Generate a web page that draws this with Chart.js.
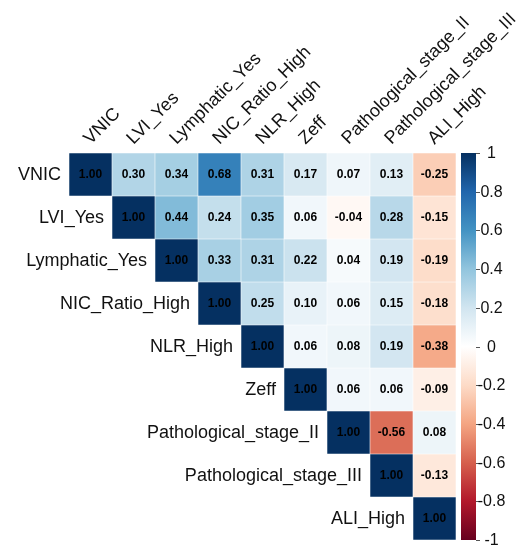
<!DOCTYPE html>
<html>
<head>
<meta charset="utf-8">
<script src="https://cdn.jsdelivr.net/npm/chart.js@4.4.1/dist/chart.umd.min.js"></script>
<style>
  html, body { margin: 0; padding: 0; background: #ffffff; }
  #wrap { width: 526px; height: 547px; }
</style>
</head>
<body>
<div id="wrap"><canvas id="c" width="526" height="547"></canvas></div>
<script>
// ---- data ----
const variables = ['VNIC', 'LVI_Yes', 'Lymphatic_Yes', 'NIC_Ratio_High', 'NLR_High', 'Zeff',
                   'Pathological_stage_II', 'Pathological_stage_III', 'ALI_High'];
// upper-triangle rows, each starting at the diagonal
const rowVNIC        = [1.00, 0.30, 0.34, 0.68, 0.31, 0.17, 0.07, 0.13, -0.25];
const rowLVI         = [1.00, 0.44, 0.24, 0.35, 0.06, -0.04, 0.28, -0.15];
const rowLymphatic   = [1.00, 0.33, 0.31, 0.22, 0.04, 0.19, -0.19];
const rowNICRatio    = [1.00, 0.25, 0.10, 0.06, 0.15, -0.18];
const rowNLR         = [1.00, 0.06, 0.08, 0.19, -0.38];
const rowZeff        = [1.00, 0.06, 0.06, -0.09];
const rowStageII     = [1.00, -0.56, 0.08];
const rowStageIII    = [1.00, -0.13];
const rowALI         = [1.00];
const rows = [rowVNIC, rowLVI, rowLymphatic, rowNICRatio, rowNLR, rowZeff, rowStageII, rowStageIII, rowALI];
const colorbarTicks = [1, 0.8, 0.6, 0.4, 0.2, 0, -0.2, -0.4, -0.6, -0.8, -1];

// ---- RdBu palette (corrplot style) ----
const palette = ['#67001F', '#B2182B', '#D6604D', '#F4A582', '#FDDBC7', '#FFFFFF',
                 '#D1E5F0', '#92C5DE', '#4393C3', '#2166AC', '#053061'];
function hexToRgb(h) { return [parseInt(h.substr(1,2),16), parseInt(h.substr(3,2),16), parseInt(h.substr(5,2),16)]; }
const palRgb = palette.map(hexToRgb);
function corrColor(v) {
  const t = (Math.max(-1, Math.min(1, v)) + 1) / 2 * (palRgb.length - 1);
  const i = Math.min(Math.floor(t), palRgb.length - 2);
  const f = t - i;
  const a = palRgb[i], b = palRgb[i + 1];
  const c = a.map((x, k) => Math.round(x + (b[k] - x) * f));
  return 'rgb(' + c.join(',') + ')';
}
function cellValue(i, j) { return j >= i ? rows[i][j - i] : null; }

const FONT = '"Liberation Sans", Arial, Helvetica, sans-serif';

const datasets = rows.map((row, i) => ({
  label: variables[i],
  data: variables.map((_, j) => j >= i ? [i - 0.5, i + 0.5] : null),
  backgroundColor: (ctx) => {
    const v = cellValue(i, ctx.dataIndex);
    return v === null ? 'rgba(0,0,0,0)' : corrColor(v);
  },
  borderColor: 'rgba(255,255,255,0.35)',
  borderWidth: 0.6,
  borderSkipped: false,
  barPercentage: 1,
  categoryPercentage: 1,
  grouped: false
}));

const decorPlugin = {
  id: 'decor',
  afterDatasetsDraw(chart) {
    const ctx = chart.ctx;
    const xs = chart.scales.x, ys = chart.scales.y, cb = chart.scales.cb;
    const area = chart.chartArea;
    const cellW = xs.getPixelForValue(1) - xs.getPixelForValue(0);
    ctx.save();
    // cell numbers
    ctx.font = 'bold 12px ' + FONT;
    ctx.fillStyle = '#000';
    ctx.textAlign = 'center';
    ctx.textBaseline = 'middle';
    chart.data.datasets.forEach((ds, i) => {
      const meta = chart.getDatasetMeta(i);
      meta.data.forEach((el, j) => {
        const v = cellValue(i, j);
        if (v === null) return;
        const p = el.getProps(['x', 'base', 'y'], true);
        const cy = (p.y + p.base) / 2;
        ctx.fillText(v.toFixed(2), p.x, cy + 0.5);
      });
    });
    // top labels (rotated 45deg)
    ctx.font = '18px ' + FONT;
    ctx.fillStyle = '#111';
    ctx.textAlign = 'left';
    ctx.textBaseline = 'alphabetic';
    variables.forEach((name, j) => {
      const x = xs.getPixelForValue(j);
      const y = area.top - 8;
      ctx.save();
      ctx.translate(x, y);
      ctx.rotate(-Math.PI / 4);
      ctx.fillText(name, 0, 0);
      ctx.restore();
    });
    // row labels, right-aligned next to the diagonal
    ctx.textAlign = 'right';
    ctx.textBaseline = 'middle';
    variables.forEach((name, i) => {
      const x = xs.getPixelForValue(i) - cellW / 2 - 8;
      const y = ys.getPixelForValue(i);
      ctx.fillText(name, x, y + 1);
    });
    // colour bar
    const barL = 461, barR = 476;
    const topY = cb.getPixelForValue(1), botY = cb.getPixelForValue(-1);
    const grad = ctx.createLinearGradient(0, topY, 0, botY);
    palette.slice().reverse().forEach((c, k) => grad.addColorStop(k / (palette.length - 1), c));
    ctx.fillStyle = grad;
    ctx.fillRect(barL, topY, barR - barL, botY - topY);
    ctx.strokeStyle = '#555';
    ctx.lineWidth = 1;
    ctx.font = '16px ' + FONT;
    ctx.fillStyle = '#111';
    ctx.textAlign = 'center';
    ctx.textBaseline = 'middle';
    colorbarTicks.forEach(v => {
      const y = Math.round(cb.getPixelForValue(v)) + 0.5;
      ctx.beginPath();
      ctx.moveTo(barR, y);
      ctx.lineTo(barR + 4, y);
      ctx.stroke();
      ctx.fillText(String(v), 491.5, y);
    });
    ctx.restore();
  }
};

new Chart(document.getElementById('c'), {
  type: 'bar',
  data: { labels: variables, datasets: datasets },
  options: {
    responsive: false,
    animation: false,
    devicePixelRatio: 1,
    indexAxis: 'x',
    layout: { padding: { left: 69, right: 70, top: 153, bottom: 7 } },
    plugins: { legend: { display: false }, tooltip: { enabled: false }, title: { display: false } },
    scales: {
      x: { type: 'category', display: false, offset: true, grid: { display: false } },
      y: { type: 'linear', display: false, min: -0.5, max: 8.5, reverse: true },
      cb: { type: 'linear', axis: 'y', position: 'right', display: false, min: -1, max: 1 }
    }
  },
  plugins: [decorPlugin]
});
</script>
</body>
</html>
